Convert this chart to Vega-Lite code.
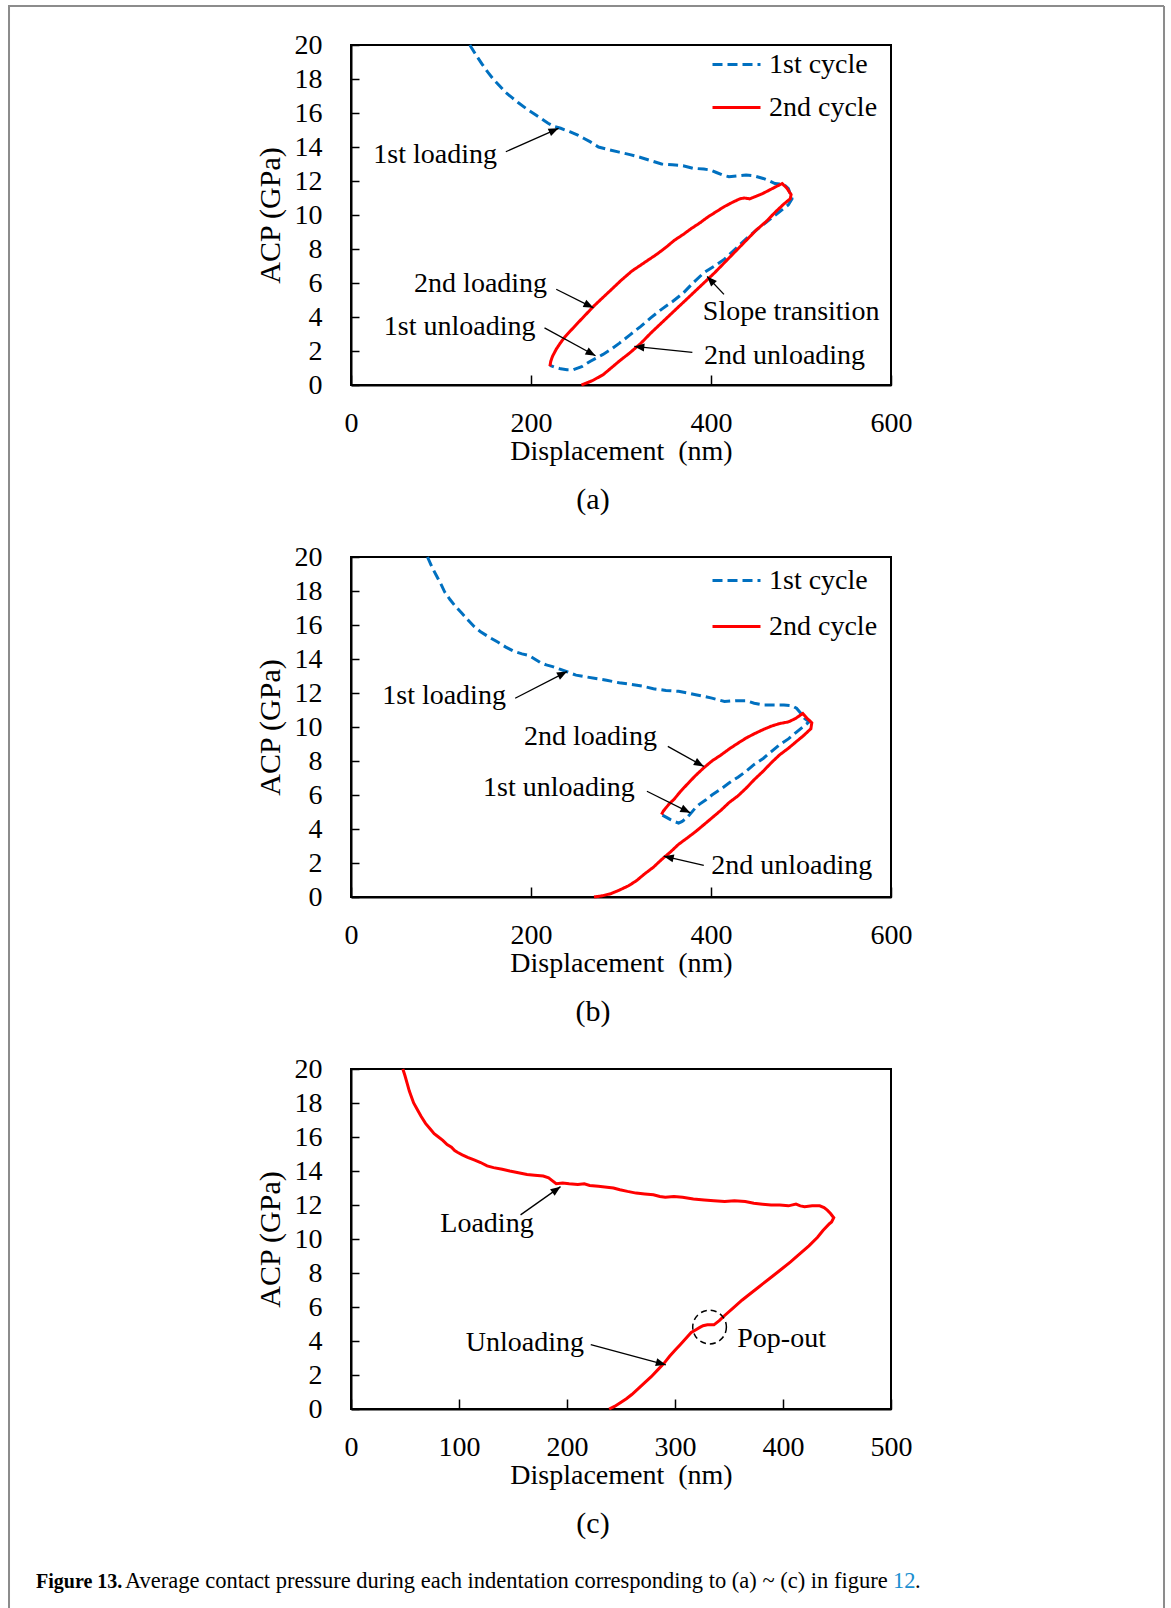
{
  "$schema": "https://vega.github.io/schema/vega-lite/v6.json",
  "padding": {"left": 8, "top": 5, "right": 0, "bottom": 0},
  "background": "white",
  "config": {
    "font": "Liberation Serif",
    "view": {"stroke": "black", "strokeWidth": 2},
    "axis": {"grid": false, "domainColor": "black", "domainWidth": 2, "tickColor": "black", "tickWidth": 1.5, "labelFont": "Liberation Serif", "labelFontSize": 28, "labelColor": "black", "labelFlush": false, "labelOverlap": false, "titleFont": "Liberation Serif", "titleFontSize": 28, "titleFontWeight": "normal", "titleColor": "black"},
    "axisX": {"tickSize": -10, "labelPadding": 34, "titlePadding": 0, "labelOverlap": false},
    "axisY": {"tickSize": -8, "labelPadding": 37, "titlePadding": 9, "titleFontSize": 30, "labelOverlap": false},
    "title": {"font": "Liberation Serif", "fontSize": 30, "fontWeight": "normal", "color": "black", "orient": "bottom", "anchor": "middle", "offset": 20, "dx": -28}
  },
  "datasets": {
    "a1": [
      {"cycle":"1st cycle","x":132,"y":20},{"cycle":"1st cycle","x":139,"y":19.4},{"cycle":"1st cycle","x":146,"y":18.85},{"cycle":"1st cycle","x":152,"y":18.4},{"cycle":"1st cycle","x":158,"y":18.0},{"cycle":"1st cycle","x":165,"y":17.6},{"cycle":"1st cycle","x":172,"y":17.2},{"cycle":"1st cycle","x":179,"y":16.9},{"cycle":"1st cycle","x":186,"y":16.6},{"cycle":"1st cycle","x":195,"y":16.25},{"cycle":"1st cycle","x":205,"y":15.9},{"cycle":"1st cycle","x":212,"y":15.65},{"cycle":"1st cycle","x":219,"y":15.4},{"cycle":"1st cycle","x":226,"y":15.2},{"cycle":"1st cycle","x":233,"y":15.1},{"cycle":"1st cycle","x":243,"y":14.9},{"cycle":"1st cycle","x":252,"y":14.7},{"cycle":"1st cycle","x":259,"y":14.5},{"cycle":"1st cycle","x":266,"y":14.3},{"cycle":"1st cycle","x":275,"y":14.0},{"cycle":"1st cycle","x":286,"y":13.85},{"cycle":"1st cycle","x":298,"y":13.7},{"cycle":"1st cycle","x":310,"y":13.55},{"cycle":"1st cycle","x":321,"y":13.4},{"cycle":"1st cycle","x":333,"y":13.2},{"cycle":"1st cycle","x":345,"y":13.0},{"cycle":"1st cycle","x":357,"y":12.95},{"cycle":"1st cycle","x":369,"y":12.9},{"cycle":"1st cycle","x":380,"y":12.75},{"cycle":"1st cycle","x":392,"y":12.7},{"cycle":"1st cycle","x":399,"y":12.65},{"cycle":"1st cycle","x":406,"y":12.5},{"cycle":"1st cycle","x":413,"y":12.35},{"cycle":"1st cycle","x":420,"y":12.25},{"cycle":"1st cycle","x":430,"y":12.3},{"cycle":"1st cycle","x":439,"y":12.35},{"cycle":"1st cycle","x":448,"y":12.3},{"cycle":"1st cycle","x":458,"y":12.15},{"cycle":"1st cycle","x":465,"y":12.0},{"cycle":"1st cycle","x":471,"y":11.85},{"cycle":"1st cycle","x":481,"y":11.8},{"cycle":"1st cycle","x":486,"y":11.55},{"cycle":"1st cycle","x":488,"y":11.25},{"cycle":"1st cycle","x":490,"y":10.95},{"cycle":"1st cycle","x":486,"y":10.6},{"cycle":"1st cycle","x":474,"y":10.1},{"cycle":"1st cycle","x":462,"y":9.6},{"cycle":"1st cycle","x":450,"y":9.1},{"cycle":"1st cycle","x":439,"y":8.6},{"cycle":"1st cycle","x":427,"y":8.0},{"cycle":"1st cycle","x":415,"y":7.4},{"cycle":"1st cycle","x":404,"y":7.0},{"cycle":"1st cycle","x":392,"y":6.6},{"cycle":"1st cycle","x":380,"y":6.0},{"cycle":"1st cycle","x":369,"y":5.4},{"cycle":"1st cycle","x":357,"y":4.9},{"cycle":"1st cycle","x":345,"y":4.45},{"cycle":"1st cycle","x":333,"y":3.95},{"cycle":"1st cycle","x":322,"y":3.45},{"cycle":"1st cycle","x":310,"y":2.95},{"cycle":"1st cycle","x":298,"y":2.45},{"cycle":"1st cycle","x":289,"y":2.1},{"cycle":"1st cycle","x":280,"y":1.8},{"cycle":"1st cycle","x":273,"y":1.6},{"cycle":"1st cycle","x":266,"y":1.4},{"cycle":"1st cycle","x":257,"y":1.1},{"cycle":"1st cycle","x":247,"y":0.9},{"cycle":"1st cycle","x":240,"y":0.9},{"cycle":"1st cycle","x":233,"y":0.95},{"cycle":"1st cycle","x":226,"y":1.05},{"cycle":"1st cycle","x":221,"y":1.15}
    ],
    "a2": [
      {"cycle":"2nd cycle","x":221,"y":1.1},{"cycle":"2nd cycle","x":222,"y":1.4},{"cycle":"2nd cycle","x":224,"y":1.7},{"cycle":"2nd cycle","x":228,"y":2.1},{"cycle":"2nd cycle","x":233,"y":2.5},{"cycle":"2nd cycle","x":238,"y":2.85},{"cycle":"2nd cycle","x":245,"y":3.25},{"cycle":"2nd cycle","x":252,"y":3.65},{"cycle":"2nd cycle","x":261,"y":4.15},{"cycle":"2nd cycle","x":270,"y":4.65},{"cycle":"2nd cycle","x":280,"y":5.15},{"cycle":"2nd cycle","x":289,"y":5.6},{"cycle":"2nd cycle","x":300,"y":6.15},{"cycle":"2nd cycle","x":312,"y":6.7},{"cycle":"2nd cycle","x":326,"y":7.2},{"cycle":"2nd cycle","x":340,"y":7.7},{"cycle":"2nd cycle","x":350,"y":8.1},{"cycle":"2nd cycle","x":359,"y":8.5},{"cycle":"2nd cycle","x":369,"y":8.85},{"cycle":"2nd cycle","x":378,"y":9.2},{"cycle":"2nd cycle","x":388,"y":9.55},{"cycle":"2nd cycle","x":397,"y":9.9},{"cycle":"2nd cycle","x":406,"y":10.2},{"cycle":"2nd cycle","x":415,"y":10.5},{"cycle":"2nd cycle","x":424,"y":10.75},{"cycle":"2nd cycle","x":432,"y":10.95},{"cycle":"2nd cycle","x":437,"y":11.0},{"cycle":"2nd cycle","x":443,"y":10.95},{"cycle":"2nd cycle","x":450,"y":11.1},{"cycle":"2nd cycle","x":457,"y":11.25},{"cycle":"2nd cycle","x":468,"y":11.55},{"cycle":"2nd cycle","x":479,"y":11.85},{"cycle":"2nd cycle","x":484,"y":11.6},{"cycle":"2nd cycle","x":489,"y":11.2},{"cycle":"2nd cycle","x":488,"y":10.95},{"cycle":"2nd cycle","x":481,"y":10.65},{"cycle":"2nd cycle","x":471,"y":10.15},{"cycle":"2nd cycle","x":462,"y":9.65},{"cycle":"2nd cycle","x":450,"y":9.1},{"cycle":"2nd cycle","x":439,"y":8.5},{"cycle":"2nd cycle","x":427,"y":7.85},{"cycle":"2nd cycle","x":415,"y":7.2},{"cycle":"2nd cycle","x":404,"y":6.6},{"cycle":"2nd cycle","x":392,"y":6.0},{"cycle":"2nd cycle","x":380,"y":5.4},{"cycle":"2nd cycle","x":369,"y":4.85},{"cycle":"2nd cycle","x":357,"y":4.25},{"cycle":"2nd cycle","x":345,"y":3.65},{"cycle":"2nd cycle","x":333,"y":3.05},{"cycle":"2nd cycle","x":322,"y":2.45},{"cycle":"2nd cycle","x":310,"y":1.9},{"cycle":"2nd cycle","x":298,"y":1.4},{"cycle":"2nd cycle","x":289,"y":1.0},{"cycle":"2nd cycle","x":280,"y":0.6},{"cycle":"2nd cycle","x":268,"y":0.25},{"cycle":"2nd cycle","x":256,"y":0}
    ],
    "b1": [
      {"cycle":"1st cycle","x":85,"y":20},{"cycle":"1st cycle","x":90,"y":19.4},{"cycle":"1st cycle","x":95,"y":18.9},{"cycle":"1st cycle","x":100,"y":18.4},{"cycle":"1st cycle","x":104,"y":17.95},{"cycle":"1st cycle","x":110,"y":17.5},{"cycle":"1st cycle","x":116,"y":17.1},{"cycle":"1st cycle","x":123,"y":16.7},{"cycle":"1st cycle","x":130,"y":16.3},{"cycle":"1st cycle","x":137,"y":15.9},{"cycle":"1st cycle","x":144,"y":15.6},{"cycle":"1st cycle","x":153,"y":15.3},{"cycle":"1st cycle","x":163,"y":15.0},{"cycle":"1st cycle","x":172,"y":14.7},{"cycle":"1st cycle","x":181,"y":14.45},{"cycle":"1st cycle","x":190,"y":14.3},{"cycle":"1st cycle","x":198,"y":14.2},{"cycle":"1st cycle","x":204,"y":14.0},{"cycle":"1st cycle","x":210,"y":13.8},{"cycle":"1st cycle","x":217,"y":13.65},{"cycle":"1st cycle","x":224,"y":13.55},{"cycle":"1st cycle","x":232,"y":13.4},{"cycle":"1st cycle","x":240,"y":13.25},{"cycle":"1st cycle","x":250,"y":13.05},{"cycle":"1st cycle","x":261,"y":12.95},{"cycle":"1st cycle","x":272,"y":12.85},{"cycle":"1st cycle","x":284,"y":12.75},{"cycle":"1st cycle","x":298,"y":12.6},{"cycle":"1st cycle","x":312,"y":12.5},{"cycle":"1st cycle","x":324,"y":12.4},{"cycle":"1st cycle","x":336,"y":12.25},{"cycle":"1st cycle","x":350,"y":12.15},{"cycle":"1st cycle","x":364,"y":12.1},{"cycle":"1st cycle","x":374,"y":12.0},{"cycle":"1st cycle","x":383,"y":11.9},{"cycle":"1st cycle","x":392,"y":11.8},{"cycle":"1st cycle","x":401,"y":11.7},{"cycle":"1st cycle","x":408,"y":11.6},{"cycle":"1st cycle","x":415,"y":11.5},{"cycle":"1st cycle","x":427,"y":11.55},{"cycle":"1st cycle","x":439,"y":11.55},{"cycle":"1st cycle","x":448,"y":11.4},{"cycle":"1st cycle","x":458,"y":11.3},{"cycle":"1st cycle","x":470,"y":11.3},{"cycle":"1st cycle","x":481,"y":11.3},{"cycle":"1st cycle","x":490,"y":11.25},{"cycle":"1st cycle","x":495,"y":11.1},{"cycle":"1st cycle","x":500,"y":10.8},{"cycle":"1st cycle","x":504,"y":10.5},{"cycle":"1st cycle","x":509,"y":10.3},{"cycle":"1st cycle","x":502,"y":10.0},{"cycle":"1st cycle","x":495,"y":9.7},{"cycle":"1st cycle","x":486,"y":9.3},{"cycle":"1st cycle","x":476,"y":8.95},{"cycle":"1st cycle","x":467,"y":8.55},{"cycle":"1st cycle","x":458,"y":8.15},{"cycle":"1st cycle","x":448,"y":7.8},{"cycle":"1st cycle","x":439,"y":7.4},{"cycle":"1st cycle","x":430,"y":7.05},{"cycle":"1st cycle","x":420,"y":6.7},{"cycle":"1st cycle","x":411,"y":6.35},{"cycle":"1st cycle","x":401,"y":6.0},{"cycle":"1st cycle","x":394,"y":5.7},{"cycle":"1st cycle","x":387,"y":5.45},{"cycle":"1st cycle","x":382,"y":5.2},{"cycle":"1st cycle","x":378,"y":4.95},{"cycle":"1st cycle","x":373,"y":4.65},{"cycle":"1st cycle","x":368,"y":4.45},{"cycle":"1st cycle","x":364,"y":4.35},{"cycle":"1st cycle","x":359,"y":4.45},{"cycle":"1st cycle","x":355,"y":4.55},{"cycle":"1st cycle","x":350,"y":4.7},{"cycle":"1st cycle","x":345,"y":4.85}
    ],
    "b2": [
      {"cycle":"2nd cycle","x":345,"y":4.85},{"cycle":"2nd cycle","x":347,"y":5.05},{"cycle":"2nd cycle","x":350,"y":5.25},{"cycle":"2nd cycle","x":354,"y":5.5},{"cycle":"2nd cycle","x":359,"y":5.75},{"cycle":"2nd cycle","x":366,"y":6.2},{"cycle":"2nd cycle","x":373,"y":6.6},{"cycle":"2nd cycle","x":382,"y":7.1},{"cycle":"2nd cycle","x":392,"y":7.6},{"cycle":"2nd cycle","x":401,"y":8.0},{"cycle":"2nd cycle","x":411,"y":8.35},{"cycle":"2nd cycle","x":420,"y":8.7},{"cycle":"2nd cycle","x":430,"y":9.05},{"cycle":"2nd cycle","x":439,"y":9.35},{"cycle":"2nd cycle","x":448,"y":9.6},{"cycle":"2nd cycle","x":458,"y":9.85},{"cycle":"2nd cycle","x":467,"y":10.05},{"cycle":"2nd cycle","x":476,"y":10.2},{"cycle":"2nd cycle","x":486,"y":10.3},{"cycle":"2nd cycle","x":494,"y":10.5},{"cycle":"2nd cycle","x":502,"y":10.8},{"cycle":"2nd cycle","x":507,"y":10.5},{"cycle":"2nd cycle","x":512,"y":10.25},{"cycle":"2nd cycle","x":511,"y":9.9},{"cycle":"2nd cycle","x":503,"y":9.5},{"cycle":"2nd cycle","x":495,"y":9.15},{"cycle":"2nd cycle","x":486,"y":8.75},{"cycle":"2nd cycle","x":476,"y":8.35},{"cycle":"2nd cycle","x":467,"y":7.9},{"cycle":"2nd cycle","x":458,"y":7.4},{"cycle":"2nd cycle","x":448,"y":6.9},{"cycle":"2nd cycle","x":439,"y":6.4},{"cycle":"2nd cycle","x":430,"y":5.95},{"cycle":"2nd cycle","x":420,"y":5.55},{"cycle":"2nd cycle","x":411,"y":5.1},{"cycle":"2nd cycle","x":401,"y":4.65},{"cycle":"2nd cycle","x":392,"y":4.25},{"cycle":"2nd cycle","x":383,"y":3.85},{"cycle":"2nd cycle","x":373,"y":3.45},{"cycle":"2nd cycle","x":364,"y":3.1},{"cycle":"2nd cycle","x":355,"y":2.65},{"cycle":"2nd cycle","x":345,"y":2.2},{"cycle":"2nd cycle","x":336,"y":1.75},{"cycle":"2nd cycle","x":326,"y":1.35},{"cycle":"2nd cycle","x":317,"y":0.95},{"cycle":"2nd cycle","x":308,"y":0.65},{"cycle":"2nd cycle","x":298,"y":0.4},{"cycle":"2nd cycle","x":289,"y":0.2},{"cycle":"2nd cycle","x":279,"y":0.07},{"cycle":"2nd cycle","x":270,"y":0}
    ],
    "c": [
      {"x":48,"y":20},{"x":50,"y":19.6},{"x":52,"y":19.15},{"x":54,"y":18.7},{"x":56,"y":18.35},{"x":58,"y":18.0},{"x":61.5,"y":17.6},{"x":65,"y":17.2},{"x":69,"y":16.8},{"x":73,"y":16.5},{"x":77,"y":16.2},{"x":81,"y":16.0},{"x":85,"y":15.8},{"x":89,"y":15.55},{"x":93,"y":15.4},{"x":96,"y":15.2},{"x":98.5,"y":15.1},{"x":103,"y":14.95},{"x":108,"y":14.8},{"x":114,"y":14.65},{"x":120,"y":14.5},{"x":126,"y":14.3},{"x":132,"y":14.2},{"x":140,"y":14.1},{"x":147,"y":14.0},{"x":155,"y":13.9},{"x":163,"y":13.8},{"x":170,"y":13.75},{"x":178,"y":13.7},{"x":183,"y":13.6},{"x":186,"y":13.45},{"x":190,"y":13.25},{"x":196,"y":13.3},{"x":202,"y":13.25},{"x":210,"y":13.2},{"x":216,"y":13.25},{"x":221,"y":13.15},{"x":229,"y":13.1},{"x":237,"y":13.05},{"x":243,"y":13.0},{"x":249,"y":12.9},{"x":256,"y":12.8},{"x":264,"y":12.7},{"x":272,"y":12.65},{"x":280,"y":12.6},{"x":286,"y":12.5},{"x":291,"y":12.45},{"x":299,"y":12.5},{"x":307,"y":12.45},{"x":317,"y":12.35},{"x":327,"y":12.3},{"x":336,"y":12.25},{"x":346,"y":12.2},{"x":355,"y":12.25},{"x":365,"y":12.2},{"x":373,"y":12.1},{"x":381,"y":12.05},{"x":389,"y":12.0},{"x":397,"y":12.0},{"x":405,"y":11.95},{"x":412,"y":12.05},{"x":416,"y":11.95},{"x":420,"y":11.9},{"x":427,"y":11.95},{"x":434,"y":11.95},{"x":438,"y":11.85},{"x":441,"y":11.7},{"x":444,"y":11.5},{"x":447,"y":11.25},{"x":445,"y":11.0},{"x":443,"y":10.9},{"x":437,"y":10.5},{"x":432,"y":10.1},{"x":424,"y":9.6},{"x":416,"y":9.15},{"x":407,"y":8.65},{"x":397,"y":8.15},{"x":387,"y":7.65},{"x":377,"y":7.15},{"x":369,"y":6.75},{"x":362,"y":6.4},{"x":354,"y":5.95},{"x":346,"y":5.5},{"x":341,"y":5.2},{"x":336,"y":4.95},{"x":333,"y":4.95},{"x":330,"y":4.95},{"x":326,"y":4.9},{"x":323,"y":4.8},{"x":319,"y":4.65},{"x":315,"y":4.5},{"x":310,"y":4.15},{"x":305,"y":3.8},{"x":300,"y":3.45},{"x":295,"y":3.1},{"x":290,"y":2.7},{"x":284,"y":2.3},{"x":278,"y":1.9},{"x":272,"y":1.55},{"x":266,"y":1.2},{"x":260,"y":0.85},{"x":255,"y":0.6},{"x":249,"y":0.35},{"x":244,"y":0.15},{"x":239,"y":0}
    ],
    "arr_a": [{"x":172,"y":13.72,"x2":230.6,"y2":15.1},{"x":228,"y":5.63,"x2":269.4,"y2":4.54},{"x":215,"y":3.36,"x2":271.7,"y2":1.72},{"x":414.4,"y":5.33,"x2":395.7,"y2":6.38},{"x":379.3,"y":1.92,"x2":314.8,"y2":2.27}],
    "arr_b": [{"x":182.4,"y":11.69,"x2":240,"y2":13.26},{"x":352,"y":8.86,"x2":392,"y2":7.68},{"x":328.8,"y":6.22,"x2":377,"y2":4.95},{"x":392,"y":1.86,"x2":347.5,"y2":2.4}],
    "arr_c": [{"x":157,"y":11.42,"x2":194,"y2":13.08},{"x":222,"y":3.78,"x2":291.5,"y2":2.6}],
    "lab_a": [{"t":"1st loading","x":93.5,"y":13.03},{"t":"2nd loading","x":144,"y":5.47},{"t":"1st unloading","x":120.7,"y":2.96},{"t":"Slope transition","x":489,"y":3.81},{"t":"2nd unloading","x":481.8,"y":1.24}],
    "lab_b": [{"t":"1st loading","x":103.4,"y":11.34},{"t":"2nd loading","x":266,"y":8.95},{"t":"1st unloading","x":231,"y":5.92},{"t":"2nd unloading","x":489.7,"y":1.33}],
    "lab_c": [{"t":"Loading","x":125.9,"y":10.44},{"t":"Unloading","x":161,"y":3.39},{"t":"Pop-out","x":398.7,"y":3.62}],
    "pop": [{"x":332,"y":4.82}]
  },
  "vconcat": [
    {"width": 1154, "height": 0.01, "data": {"values": []}, "mark": "point", "view": {"stroke": "#8c8c8c", "strokeWidth": 2}},
    {
      "hconcat": [
        {"width": 0.01, "height": 1600, "data": {"values": []}, "mark": "point", "view": {"stroke": "#8c8c8c", "strokeWidth": 2}},
        {"width": 341, "height": 1, "data": {"values": []}, "mark": "point", "view": {"stroke": null}},
        {
          "vconcat": [
            {"width": 0.01, "height": 38, "data": {"values": []}, "mark": "point", "view": {"stroke": null}},
            {
              "width": 540, "height": 340,
              "title": {"text": "(a)"},
              "layer": [
                {"data": {"name": "a1"}, "mark": {"type": "line", "strokeWidth": 3},
                 "encoding": {
                   "x": {"field": "x", "type": "quantitative", "scale": {"domain": [0, 600], "nice": false, "zero": false}, "axis": {"values": [0, 200, 400, 600], "tickCount": 20, "labelOverlap": false, "title": "Displacement\u00a0 (nm)"}},
                   "y": {"field": "y", "type": "quantitative", "scale": {"domain": [0, 20], "nice": false}, "axis": {"values": [0, 2, 4, 6, 8, 10, 12, 14, 16, 18, 20], "tickCount": 20, "labelOverlap": false, "title": "ACP (GPa)"}},
                   "color": {"field": "cycle", "type": "nominal", "scale": {"domain": ["1st cycle", "2nd cycle"], "range": ["#0070C0", "#FF0000"]}, "legend": {"title": null, "orient": "none", "legendX": 360, "legendY": -6, "symbolType": "stroke", "symbolSize": 2304, "symbolStrokeWidth": 3, "labelFontSize": 28, "labelFont": "Liberation Serif", "labelColor": "black", "labelOffset": 7, "rowPadding": 3, "padding": 0}},
                   "strokeDash": {"field": "cycle", "type": "nominal", "scale": {"domain": ["1st cycle", "2nd cycle"], "range": [[10, 5], [1, 0]]}, "legend": {"title": null, "orient": "none", "legendX": 360, "legendY": -6, "symbolType": "stroke", "symbolSize": 2304, "symbolStrokeWidth": 3, "labelFontSize": 28, "labelFont": "Liberation Serif", "labelColor": "black", "labelOffset": 7, "rowPadding": 3, "padding": 0}},
                   "order": {"value": null}
                 }},
                {"data": {"name": "a2"}, "mark": {"type": "line", "strokeWidth": 3},
                 "encoding": {
                   "x": {"field": "x", "type": "quantitative", "scale": {"domain": [0, 600]}},
                   "y": {"field": "y", "type": "quantitative", "scale": {"domain": [0, 20]}},
                   "color": {"field": "cycle", "type": "nominal", "scale": {"domain": ["1st cycle", "2nd cycle"], "range": ["#0070C0", "#FF0000"]}},
                   "strokeDash": {"field": "cycle", "type": "nominal", "scale": {"domain": ["1st cycle", "2nd cycle"], "range": [[10, 5], [1, 0]]}},
                   "order": {"value": null}
                 }},
                {"data": {"name": "arr_a"}, "mark": {"type": "rule", "color": "black", "strokeWidth": 1.3},
                 "encoding": {"x": {"field": "x", "type": "quantitative", "scale": {"domain": [0, 600]}}, "y": {"field": "y", "type": "quantitative", "scale": {"domain": [0, 20]}}, "x2": {"field": "x2"}, "y2": {"field": "y2"}}},
                {"data": {"name": "arr_a"}, "transform": [{"calculate": "atan2((datum.x2 - datum.x) * 0.9, (datum.y2 - datum.y) * 17) * 180 / PI", "as": "angle"}],
                 "mark": {"type": "point", "shape": "M0,0L-0.4,1L0.4,1Z", "filled": true, "color": "black", "size": 400, "opacity": 1, "strokeWidth": 0},
                 "encoding": {"x": {"field": "x2", "type": "quantitative", "scale": {"domain": [0, 600]}}, "y": {"field": "y2", "type": "quantitative", "scale": {"domain": [0, 20]}}, "angle": {"field": "angle", "type": "quantitative", "scale": null}}},
                {"data": {"name": "lab_a"}, "mark": {"type": "text", "fontSize": 28, "font": "Liberation Serif", "align": "center", "baseline": "alphabetic", "color": "black"},
                 "encoding": {"x": {"field": "x", "type": "quantitative", "scale": {"domain": [0, 600]}}, "y": {"field": "y", "type": "quantitative", "scale": {"domain": [0, 20]}}, "text": {"field": "t"}}}
              ]
            },
            {"width": 0.01, "height": 172, "data": {"values": []}, "mark": "point", "view": {"stroke": null}},
            {
              "width": 540, "height": 340,
              "title": {"text": "(b)"},
              "layer": [
                {"data": {"name": "b1"}, "mark": {"type": "line", "strokeWidth": 3},
                 "encoding": {
                   "x": {"field": "x", "type": "quantitative", "scale": {"domain": [0, 600], "nice": false, "zero": false}, "axis": {"values": [0, 200, 400, 600], "tickCount": 20, "labelOverlap": false, "title": "Displacement\u00a0 (nm)"}},
                   "y": {"field": "y", "type": "quantitative", "scale": {"domain": [0, 20], "nice": false}, "axis": {"values": [0, 2, 4, 6, 8, 10, 12, 14, 16, 18, 20], "tickCount": 20, "labelOverlap": false, "title": "ACP (GPa)"}},
                   "color": {"field": "cycle", "type": "nominal", "scale": {"domain": ["1st cycle", "2nd cycle"], "range": ["#0070C0", "#FF0000"]}, "legend": {"title": null, "orient": "none", "legendX": 360, "legendY": -2, "symbolType": "stroke", "symbolSize": 2304, "symbolStrokeWidth": 3, "labelFontSize": 28, "labelFont": "Liberation Serif", "labelColor": "black", "labelOffset": 7, "rowPadding": 6, "padding": 0}},
                   "strokeDash": {"field": "cycle", "type": "nominal", "scale": {"domain": ["1st cycle", "2nd cycle"], "range": [[10, 5], [1, 0]]}, "legend": {"title": null, "orient": "none", "legendX": 360, "legendY": -2, "symbolType": "stroke", "symbolSize": 2304, "symbolStrokeWidth": 3, "labelFontSize": 28, "labelFont": "Liberation Serif", "labelColor": "black", "labelOffset": 7, "rowPadding": 6, "padding": 0}},
                   "order": {"value": null}
                 }},
                {"data": {"name": "b2"}, "mark": {"type": "line", "strokeWidth": 3},
                 "encoding": {
                   "x": {"field": "x", "type": "quantitative", "scale": {"domain": [0, 600]}},
                   "y": {"field": "y", "type": "quantitative", "scale": {"domain": [0, 20]}},
                   "color": {"field": "cycle", "type": "nominal", "scale": {"domain": ["1st cycle", "2nd cycle"], "range": ["#0070C0", "#FF0000"]}},
                   "strokeDash": {"field": "cycle", "type": "nominal", "scale": {"domain": ["1st cycle", "2nd cycle"], "range": [[10, 5], [1, 0]]}},
                   "order": {"value": null}
                 }},
                {"data": {"name": "arr_b"}, "mark": {"type": "rule", "color": "black", "strokeWidth": 1.3},
                 "encoding": {"x": {"field": "x", "type": "quantitative", "scale": {"domain": [0, 600]}}, "y": {"field": "y", "type": "quantitative", "scale": {"domain": [0, 20]}}, "x2": {"field": "x2"}, "y2": {"field": "y2"}}},
                {"data": {"name": "arr_b"}, "transform": [{"calculate": "atan2((datum.x2 - datum.x) * 0.9, (datum.y2 - datum.y) * 17) * 180 / PI", "as": "angle"}],
                 "mark": {"type": "point", "shape": "M0,0L-0.4,1L0.4,1Z", "filled": true, "color": "black", "size": 400, "opacity": 1, "strokeWidth": 0},
                 "encoding": {"x": {"field": "x2", "type": "quantitative", "scale": {"domain": [0, 600]}}, "y": {"field": "y2", "type": "quantitative", "scale": {"domain": [0, 20]}}, "angle": {"field": "angle", "type": "quantitative", "scale": null}}},
                {"data": {"name": "lab_b"}, "mark": {"type": "text", "fontSize": 28, "font": "Liberation Serif", "align": "center", "baseline": "alphabetic", "color": "black"},
                 "encoding": {"x": {"field": "x", "type": "quantitative", "scale": {"domain": [0, 600]}}, "y": {"field": "y", "type": "quantitative", "scale": {"domain": [0, 20]}}, "text": {"field": "t"}}}
              ]
            },
            {"width": 0.01, "height": 172, "data": {"values": []}, "mark": "point", "view": {"stroke": null}},
            {
              "width": 540, "height": 340,
              "title": {"text": "(c)"},
              "layer": [
                {"data": {"name": "c"}, "mark": {"type": "line", "strokeWidth": 3, "color": "#FF0000"},
                 "encoding": {
                   "x": {"field": "x", "type": "quantitative", "scale": {"domain": [0, 500], "nice": false, "zero": false}, "axis": {"values": [0, 100, 200, 300, 400, 500], "tickCount": 20, "labelOverlap": false, "title": "Displacement\u00a0 (nm)"}},
                   "y": {"field": "y", "type": "quantitative", "scale": {"domain": [0, 20], "nice": false}, "axis": {"values": [0, 2, 4, 6, 8, 10, 12, 14, 16, 18, 20], "tickCount": 20, "labelOverlap": false, "title": "ACP (GPa)"}},
                   "order": {"value": null}
                 }},
                {"data": {"name": "pop"}, "mark": {"type": "point", "shape": "circle", "filled": false, "color": "black", "strokeWidth": 1.5, "strokeDash": [6, 4], "size": 1134, "opacity": 1},
                 "encoding": {"x": {"field": "x", "type": "quantitative", "scale": {"domain": [0, 500]}}, "y": {"field": "y", "type": "quantitative", "scale": {"domain": [0, 20]}}}},
                {"data": {"name": "arr_c"}, "mark": {"type": "rule", "color": "black", "strokeWidth": 1.3},
                 "encoding": {"x": {"field": "x", "type": "quantitative", "scale": {"domain": [0, 500]}}, "y": {"field": "y", "type": "quantitative", "scale": {"domain": [0, 20]}}, "x2": {"field": "x2"}, "y2": {"field": "y2"}}},
                {"data": {"name": "arr_c"}, "transform": [{"calculate": "atan2((datum.x2 - datum.x) * 1.08, (datum.y2 - datum.y) * 17) * 180 / PI", "as": "angle"}],
                 "mark": {"type": "point", "shape": "M0,0L-0.4,1L0.4,1Z", "filled": true, "color": "black", "size": 400, "opacity": 1, "strokeWidth": 0},
                 "encoding": {"x": {"field": "x2", "type": "quantitative", "scale": {"domain": [0, 500]}}, "y": {"field": "y2", "type": "quantitative", "scale": {"domain": [0, 20]}}, "angle": {"field": "angle", "type": "quantitative", "scale": null}}},
                {"data": {"name": "lab_c"}, "mark": {"type": "text", "fontSize": 28, "font": "Liberation Serif", "align": "center", "baseline": "alphabetic", "color": "black"},
                 "encoding": {"x": {"field": "x", "type": "quantitative", "scale": {"domain": [0, 500]}}, "y": {"field": "y", "type": "quantitative", "scale": {"domain": [0, 20]}}, "text": {"field": "t"}}}
              ]
            },
            {"width": 0.01, "height": 179, "data": {"values": []}, "mark": "point", "view": {"stroke": null}},
            {
              "width": 0.01, "height": 0.01, "view": {"stroke": null},
              "layer": [
                {"data": {"values": [{"t": "Figure 13."}]}, "mark": {"type": "text", "align": "left", "baseline": "alphabetic", "font": "Liberation Serif", "fontSize": 20, "fontWeight": "bold", "color": "black", "dx": -315}, "encoding": {"text": {"field": "t"}}},
                {"data": {"values": [{"t": "Average contact pressure during each indentation corresponding to (a) ~ (c) in figure"}]}, "mark": {"type": "text", "align": "left", "baseline": "alphabetic", "font": "Liberation Serif", "fontSize": 22.5, "color": "black", "dx": -226}, "encoding": {"text": {"field": "t"}}},
                {"data": {"values": [{"t": "12"}]}, "mark": {"type": "text", "align": "left", "baseline": "alphabetic", "font": "Liberation Serif", "fontSize": 22.5, "color": "#1a8fd0", "dx": 542}, "encoding": {"text": {"field": "t"}}},
                {"data": {"values": [{"t": "."}]}, "mark": {"type": "text", "align": "left", "baseline": "alphabetic", "font": "Liberation Serif", "fontSize": 22.5, "color": "black", "dx": 564}, "encoding": {"text": {"field": "t"}}}
              ]
            }
          ],
          "spacing": 0, "bounds": "flush",
          "resolve": {"scale": {"color": "independent", "strokeDash": "independent"}, "legend": {"color": "independent", "strokeDash": "independent"}}
        },
        {"width": 813, "height": 1, "data": {"values": []}, "mark": "point", "view": {"stroke": null}},
        {"width": 0.01, "height": 1600, "data": {"values": []}, "mark": "point", "view": {"stroke": "#8c8c8c", "strokeWidth": 2}}
      ],
      "spacing": 0, "bounds": "flush"
    }
  ],
  "spacing": 0,
  "bounds": "flush"
}
